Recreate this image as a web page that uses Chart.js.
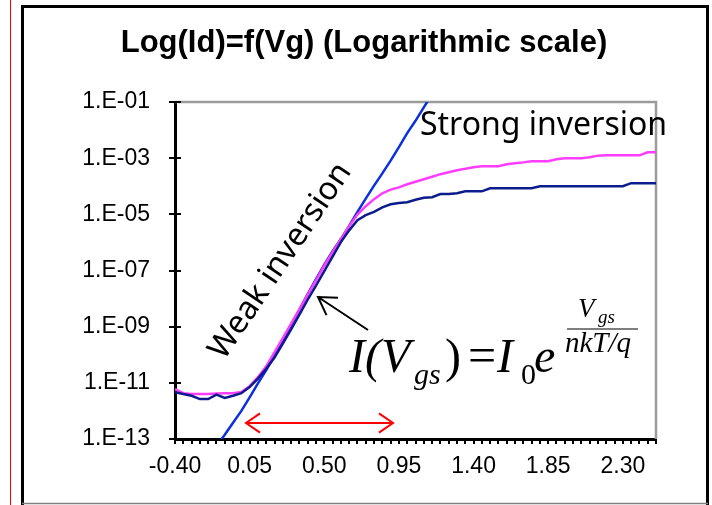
<!DOCTYPE html>
<html><head><meta charset="utf-8">
<script src="https://cdn.jsdelivr.net/npm/chart.js@4.4.1/dist/chart.umd.min.js"></script>
<style>html,body{margin:0;padding:0;background:#fff;overflow:hidden}canvas{display:block}</style>
</head><body>
<canvas id="c" width="712" height="505"></canvas>
<script>
// Gate voltage (V) – category values
const vg = [-0.40,-0.35,-0.30,-0.25,-0.20,-0.15,-0.10,-0.05,0.00,0.05,0.10,0.15,0.20,0.25,0.30,0.35,0.40,0.45,0.50,0.55,0.60,0.65,0.70,0.75,0.80,0.85,0.90,0.95,1.00,1.05,1.10,1.15,1.20,1.25,1.30,1.35,1.40,1.45,1.50,1.55,1.60,1.65,1.70,1.75,1.80,1.85,1.90,1.95,2.00,2.05,2.10,2.15,2.20,2.25,2.30,2.35,2.40,2.45,2.50];
// log10(Id) – higher drain bias (magenta)
const log10IdHigh = [-11.22,-11.37,-11.40,-11.40,-11.40,-11.38,-11.37,-11.37,-11.33,-11.12,-10.80,-10.41,-9.91,-9.41,-8.89,-8.38,-7.86,-7.35,-6.83,-6.35,-5.89,-5.42,-5.01,-4.71,-4.46,-4.25,-4.12,-4.04,-3.93,-3.84,-3.75,-3.66,-3.57,-3.50,-3.43,-3.38,-3.32,-3.29,-3.29,-3.29,-3.22,-3.18,-3.15,-3.11,-3.11,-3.11,-3.04,-3.00,-3.00,-3.00,-2.97,-2.91,-2.90,-2.90,-2.90,-2.90,-2.90,-2.79,-2.79];
// log10(Id) – lower drain bias (navy)
const log10IdLow = [-11.33,-11.40,-11.46,-11.58,-11.58,-11.42,-11.54,-11.46,-11.37,-11.15,-10.85,-10.50,-10.10,-9.60,-9.10,-8.57,-8.04,-7.54,-7.02,-6.51,-5.99,-5.57,-5.21,-5.03,-4.91,-4.75,-4.64,-4.60,-4.57,-4.48,-4.41,-4.39,-4.28,-4.28,-4.25,-4.18,-4.18,-4.18,-4.07,-4.07,-4.07,-4.07,-4.07,-4.07,-4.00,-4.00,-4.00,-4.00,-4.00,-4.00,-4.00,-4.00,-4.00,-4.00,-4.00,-3.89,-3.89,-3.89,-3.89];
// log10(Id) – exponential (weak inversion) model (blue)
const log10IdModel = [null,null,null,null,null,-13.25,-12.85,-12.42,-12.00,-11.52,-11.02,-10.55,-10.03,-9.48,-8.94,-8.39,-7.84,-7.31,-6.79,-6.31,-5.88,-5.41,-4.91,-4.44,-3.98,-3.54,-3.09,-2.61,-2.11,-1.67,-1.19,-0.73,null,null,null,null,null,null,null,null,null,null,null,null,null,null,null,null,null,null,null,null,null,null,null,null,null,null,null];
// Axis ticks
const yTickExps = [-13,-11,-9,-7,-5,-3,-1];
const yTickLabels = ['1.E-13','1.E-11','1.E-09','1.E-07','1.E-05','1.E-03','1.E-01'];
const xTickValues = [-0.40,0.05,0.50,0.95,1.40,1.85,2.30];
const xTickLabels = ['-0.40','0.05','0.50','0.95','1.40','1.85','2.30'];

const toPts = arr => vg.map((v,i)=>({x:v, y: arr[i]===null ? null : Math.pow(10, arr[i])}));
const SANS = "'Liberation Sans', Arial, sans-serif";
const SERIF = "'Liberation Serif', 'Times New Roman', serif";

function arrowHead(ctx, tx, ty, fx, fy, len, ang){
  const a = Math.atan2(fy-ty, fx-tx);
  ctx.moveTo(tx + len*Math.cos(a+ang), ty + len*Math.sin(a+ang));
  ctx.lineTo(tx, ty);
  ctx.lineTo(tx + len*Math.cos(a-ang), ty + len*Math.sin(a-ang));
}

const decor = {
  id:'decor',
  beforeDraw(chart){
    const c = chart.ctx; c.save(); c.fillStyle='#fff'; c.fillRect(0,0,chart.width,chart.height); c.restore();
  },
  beforeDatasetsDraw(chart){
    const {ctx, chartArea:a} = chart;
    ctx.save(); ctx.strokeStyle='#9b9b9b'; ctx.lineWidth=2.5;
    ctx.beginPath(); ctx.moveTo(a.left, a.top); ctx.lineTo(a.right, a.top); ctx.lineTo(a.right, a.bottom); ctx.stroke();
    ctx.restore();
  },
  afterDraw(chart){
    const {ctx, chartArea:a, scales} = chart;
    const xs = scales.x, ys = scales.y;
    ctx.save();
    // tick marks
    ctx.strokeStyle = '#000'; ctx.lineWidth = 2;
    ctx.beginPath();
    vg.forEach(v=>{ const px = Math.round(xs.getPixelForValue(v)); ctx.moveTo(px, a.bottom); ctx.lineTo(px, a.bottom+5); });
    yTickExps.forEach(e=>{ const py = Math.round(ys.getPixelForValue(Math.pow(10,e))); ctx.moveTo(a.left-6, py); ctx.lineTo(a.left+6, py); });
    ctx.stroke();
    // outer frame
    ctx.strokeStyle='#000'; ctx.lineWidth=3;
    ctx.beginPath(); ctx.moveTo(22.5, 505); ctx.lineTo(22.5, 6.5); ctx.lineTo(707.5, 6.5); ctx.lineTo(707.5, 505); ctx.stroke();
    ctx.strokeStyle='#808080'; ctx.lineWidth=1.5;
    ctx.beginPath(); ctx.moveTo(22, 503.5); ctx.lineTo(708, 503.5); ctx.stroke();
    ctx.strokeStyle='#ff0000'; ctx.lineWidth=1;
    ctx.beginPath(); ctx.moveTo(10.5, 0); ctx.lineTo(10.5, 505); ctx.stroke();
    // title
    ctx.fillStyle='#000'; ctx.textAlign='center'; ctx.textBaseline='alphabetic';
    ctx.font = "bold 31px " + SANS;
    ctx.fillText('Log(Id)=f(Vg) (Logarithmic scale)', 364, 52);
    // annotations
    ctx.textAlign='left';
    ctx.font = "32px 'Noto Sans', 'Open Sans', sans-serif";
    ctx.fillText('Strong inversion', 420, 135);
    ctx.save(); ctx.translate(224, 361); ctx.rotate(-56*Math.PI/180);
    ctx.fillText('Weak inversion', 0, 0); ctx.restore();
    // formula
    const seg = (t, x, y, f) => { ctx.font = f; ctx.fillText(t, x, y); };
    seg('I(V', 349, 372, 'italic 48px ' + SERIF);
    seg('gs', 414, 384, 'italic 30px ' + SERIF);
    seg(')', 445, 372, '48px ' + SERIF);
    seg('=', 468, 372, '50px ' + SERIF);
    seg('I', 497, 372, 'italic 48px ' + SERIF);
    seg('0', 521, 384, '30px ' + SERIF);
    seg('e', 534, 372, 'italic 48px ' + SERIF);
    seg('V', 578, 317, 'italic 27px ' + SERIF);
    seg('gs', 598, 323, 'italic 19px ' + SERIF);
    seg('nkT/q', 565, 352, 'italic 29px ' + SERIF);
    ctx.strokeStyle='#555'; ctx.lineWidth=1.5;
    ctx.beginPath(); ctx.moveTo(567, 329); ctx.lineTo(638, 329); ctx.stroke();
    // black arrow
    ctx.strokeStyle='#000'; ctx.lineWidth=2;
    ctx.beginPath(); ctx.moveTo(368, 330); ctx.lineTo(318, 297);
    arrowHead(ctx, 318, 297, 368, 330, 20, 0.55); ctx.stroke();
    // red double arrow
    ctx.strokeStyle='#ff0000'; ctx.lineWidth=2;
    ctx.beginPath(); ctx.moveTo(246, 423); ctx.lineTo(393, 423);
    arrowHead(ctx, 246, 423, 393, 423, 17, 0.6);
    arrowHead(ctx, 393, 423, 246, 423, 17, 0.6);
    ctx.stroke();
    ctx.restore();
  }
};

new Chart(document.getElementById('c'), {
  type:'line',
  data:{ datasets:[
    {label:'Id low Vd', data: toPts(log10IdLow), borderColor:'#0c1c8c', borderWidth:2.5, pointRadius:0, tension:0, clip:0},
    {label:'Id high Vd', data: toPts(log10IdHigh), borderColor:'#ff3dff', borderWidth:2.5, pointRadius:0, tension:0, clip:0},
    {label:'Exponential model', data: toPts(log10IdModel), borderColor:'#0a30e0', borderWidth:2.5, pointRadius:0, tension:0, clip:0, spanGaps:false}
  ]},
  options:{
    responsive:false, animation:false, devicePixelRatio:1,
    layout:{padding:{left:0, right:56, top:102, bottom:0}},
    plugins:{legend:{display:false}, title:{display:false}, tooltip:{enabled:false}},
    scales:{
      x:{ type:'linear', min:-0.4, max:2.5,
          afterBuildTicks: s => { s.ticks = xTickValues.map(v=>({value:v})); },
          afterFit: s => { s.height = 66; },
          ticks:{ callback:(v,i)=>xTickLabels[i], autoSkip:false, maxRotation:0, minRotation:0, color:'#000', padding:14, font:{family:SANS, size:23} },
          grid:{ display:true, drawOnChartArea:false, drawTicks:false, color:'rgba(0,0,0,0)' },
          border:{ display:true, color:'#000', width:3 } },
      y:{ type:'logarithmic', min:1e-13, max:1e-1,
          afterBuildTicks: s => { s.ticks = yTickExps.map(e=>({value:Math.pow(10,e)})); },
          afterFit: s => { s.width = 175; },
          ticks:{ callback:(v,i)=>yTickLabels[i], autoSkip:false, color:'#000', padding:25, font:{family:SANS, size:23} },
          grid:{ display:true, drawOnChartArea:false, drawTicks:false, color:'rgba(0,0,0,0)' },
          border:{ display:true, color:'#000', width:3 } }
    }
  },
  plugins:[decor]
});
</script>
</body></html>
